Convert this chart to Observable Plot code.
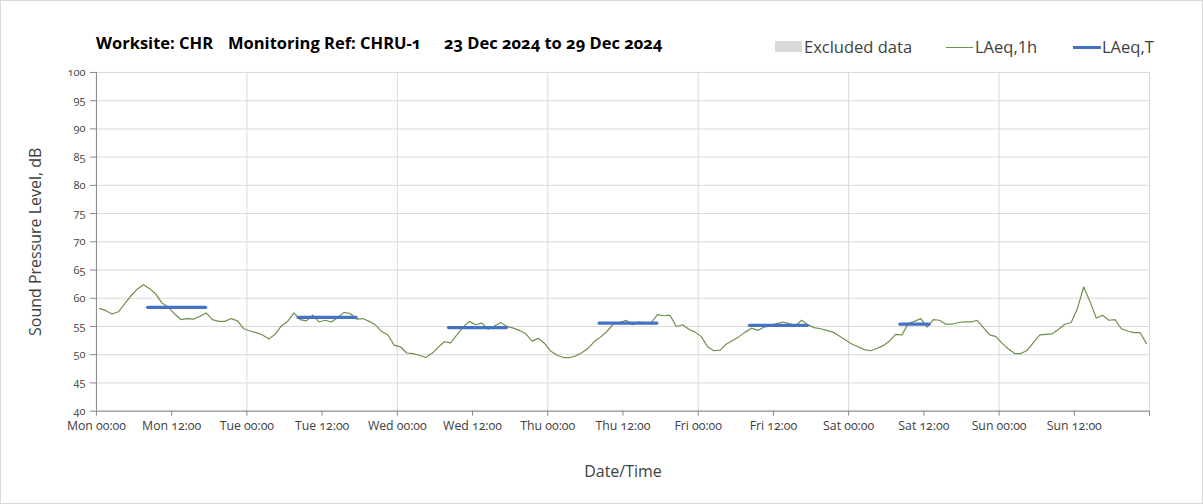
<!DOCTYPE html>
<html><head><meta charset="utf-8">
<script src="https://cdn.jsdelivr.net/npm/d3@7"></script>
<script src="https://cdn.jsdelivr.net/npm/@observablehq/plot@0.6"></script>
<style>
body{margin:0;background:#fff;}
#wrap{position:relative;width:1203px;height:504px;box-sizing:border-box;border:1px solid #d9d9d9;overflow:hidden;font-family:"Open Sans",sans-serif;background:#fff;}
#chart{position:absolute;left:-1px;top:-1px;}
#chart text{font-variant-numeric:oldstyle-nums;}
.t{position:absolute;top:31px;font-weight:bold;font-size:16.5px;line-height:22px;color:#000;white-space:pre;font-variant-numeric:oldstyle-nums;}
.lg{position:absolute;top:35px;font-size:16.5px;line-height:22px;color:#404040;white-space:pre;}
.sw{position:absolute;}
</style></head>
<body>
<div id="wrap">
  <div id="chart"></div>
  <div class="t" style="left:95px">Worksite: CHR</div>
  <div class="t" style="left:227px">Monitoring Ref: CHRU-1</div>
  <div class="t" style="left:443px">23 Dec 2024 to 29 Dec 2024</div>
  <div class="sw" style="left:774px;top:40px;width:27px;height:11px;background:#d9d9d9"></div>
  <div class="lg" style="left:803px">Excluded data</div>
  <div class="sw" style="left:945px;top:46px;width:27px;height:1px;background:#6f8f4e"></div>
  <div class="lg" style="left:974px">LAeq,1h</div>
  <div class="sw" style="left:1072px;top:45px;width:28px;height:3px;background:#4472c4"></div>
  <div class="lg" style="left:1101px">LAeq,T</div>
</div>
<script>
const startDate = "2024-12-23T00:00:00Z";
const numDays = 7;
// hourly LAeq,1h values, Mon 00:00 .. Sun 23:00 (plotted at mid-hour)
const laeq1h = [
58.2,57.8,57.2,57.6,59.0,60.4,61.6,62.4,61.7,60.7,59.1,58.4,57.2,56.2,56.4,56.3,56.8,57.4,56.2,55.9,55.9,56.4,56.0,54.6,
54.2,53.9,53.5,52.8,53.6,55.1,55.9,57.4,56.2,56.0,57.0,55.8,56.1,55.8,56.6,57.5,57.3,56.3,56.4,55.9,55.3,54.1,53.5,51.7,
51.4,50.3,50.2,49.9,49.5,50.2,51.3,52.3,52.1,53.5,54.9,55.9,55.3,55.6,54.5,55.1,55.7,55.0,54.7,54.3,53.7,52.4,52.9,52.0,
50.6,49.9,49.5,49.5,49.8,50.4,51.2,52.4,53.2,54.2,55.5,55.7,56.1,55.3,55.8,55.6,55.7,57.1,56.9,57.0,55.0,55.3,54.5,54.0,
53.2,51.4,50.7,50.8,51.9,52.5,53.2,54.0,54.7,54.3,54.9,55.1,55.5,55.8,55.5,55.1,56.1,55.3,54.8,54.6,54.3,54.0,53.3,52.6,
51.9,51.4,50.9,50.7,51.1,51.6,52.4,53.6,53.5,55.5,55.9,56.4,54.9,56.2,56.1,55.4,55.4,55.7,55.8,55.8,56.1,54.8,53.5,53.2,
52.0,51.0,50.2,50.2,50.8,52.2,53.5,53.6,53.7,54.5,55.4,55.7,58.2,62.0,59.4,56.5,57.0,56.1,56.2,54.6,54.2,53.9,53.9,52.0
];
// LAeq,T periods
const periodStart = ["2024-12-23T08:15Z","2024-12-24T08:15Z","2024-12-25T08:15Z","2024-12-26T08:15Z","2024-12-27T08:15Z","2024-12-28T08:15Z"];
const periodEnd   = ["2024-12-23T17:30Z","2024-12-24T17:30Z","2024-12-25T17:30Z","2024-12-26T17:30Z","2024-12-27T17:30Z","2024-12-28T12:55Z"];
const laeqT = [58.4,56.6,54.8,55.6,55.2,55.4];
const yTicks = [40,45,50,55,60,65,70,75,80,85,90,95,100];
const yLabel = "Sound Pressure Level, dB";
const xLabel = "Date/Time";

const H = 3600e3;
const t0 = new Date(startDate);
const t1 = new Date(+t0 + numDays*24*H);
const hourly = laeq1h.map((v,k)=>({t:new Date(+t0 + (k+0.5)*H), v}));
const periods = laeqT.map((v,i)=>({s:new Date(periodStart[i]), e:new Date(periodEnd[i]), v}));
const dayTicks = d3.utcDay.range(t0, new Date(+t1+1));
const halfDayTicks = d3.utcHour.every(12).range(t0, t1);

const chart = Plot.plot({
  width:1203, height:504,
  marginLeft:96, marginRight:53, marginTop:72, marginBottom:93,
  style:{fontFamily:"Open Sans, sans-serif", fontSize:"11px", color:"#404040", background:"transparent"},
  x:{type:"utc", domain:[t0,t1]},
  y:{domain:[40,100]},
  marks:[
    Plot.gridY(yTicks,{stroke:"#d9d9d9", strokeOpacity:1}),
    Plot.gridX(dayTicks,{stroke:"#d9d9d9", strokeOpacity:1}),
    Plot.ruleX([t0],{stroke:"#868686"}),
    Plot.ruleY([40],{stroke:"#868686"}),
    Plot.axisY(yTicks,{tickSize:6, tickPadding:5, stroke:"#868686", label:null, fontSize:11, fill:"#404040"}),
    Plot.axisX([...halfDayTicks, t1],{tickSize:5, tickPadding:5, stroke:"#868686", tickFormat:(d)=> +d===+t1 ? "" : d3.utcFormat("%a %H:%M")(d), label:null, fontSize:12.3, fill:"#404040"}),
    Plot.line(hourly,{x:"t", y:"v", stroke:"#6f8f4e", strokeWidth:1.2}),
    Plot.ruleY(periods,{y:"v", x1:"s", x2:"e", stroke:"#4472c4", strokeWidth:3.2, strokeLinecap:"round"}),
    Plot.text([yLabel],{text:d=>d, frameAnchor:"left", textAnchor:"middle", rotate:-90, dx:-61, fontSize:16, fill:"#404040"}),
    Plot.text([xLabel],{text:d=>d, frameAnchor:"bottom", dy:66, fontSize:16, fill:"#404040"})
  ]
});
document.getElementById("chart").appendChild(chart);
</script>
</body></html>
